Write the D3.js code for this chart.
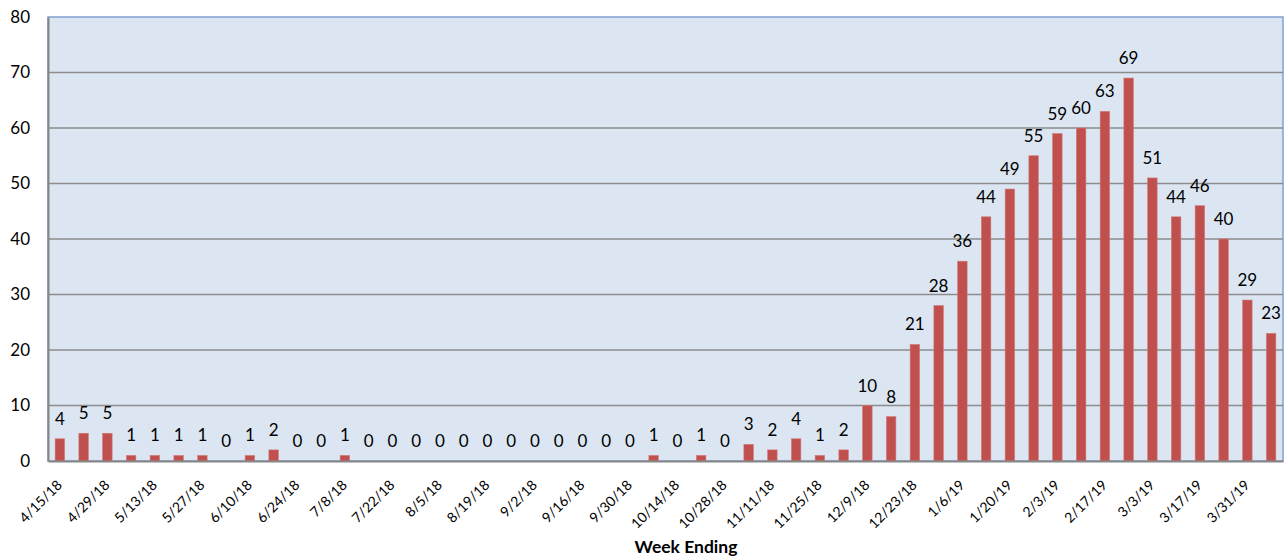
<!DOCTYPE html>
<html>
<head>
<meta charset="utf-8">
<script src="https://cdn.jsdelivr.net/npm/d3@7"></script>
<style>
  body { margin: 0; background: #fff; }
  text { font-family: Lato, "Open Sans", sans-serif; fill: #000; }
</style>
</head>
<body>
<div id="chart"></div>
<script>
// week ending dates (every week), labels shown on every 2nd
var weeks = ["4/15/18","4/22/18","4/29/18","5/6/18","5/13/18","5/20/18","5/27/18","6/3/18","6/10/18","6/17/18",
  "6/24/18","7/1/18","7/8/18","7/15/18","7/22/18","7/29/18","8/5/18","8/12/18","8/19/18","8/26/18",
  "9/2/18","9/9/18","9/16/18","9/23/18","9/30/18","10/7/18","10/14/18","10/21/18","10/28/18","11/4/18",
  "11/11/18","11/18/18","11/25/18","12/2/18","12/9/18","12/16/18","12/23/18","12/30/18","1/6/19","1/13/19",
  "1/20/19","1/27/19","2/3/19","2/10/19","2/17/19","2/24/19","3/3/19","3/10/19","3/17/19","3/24/19",
  "3/31/19","4/7/19"];
var counts = [4,5,5,1,1,1,1,0,1,2,
  0,0,1,0,0,0,0,0,0,0,
  0,0,0,0,0,1,0,1,0,3,
  2,4,1,2,10,8,21,28,36,44,
  49,55,59,60,63,69,51,44,46,40,
  29,23];
var yTicks = [0,10,20,30,40,50,60,70,80];

var w = 1286, h = 560;
var margin = {left: 48, right: 3, top: 17, bottom: 99};

var svg = d3.select("#chart").append("svg")
  .attr("width", w)
  .attr("height", h);

var xScale = d3.scaleBand()
  .domain(weeks)
  .range([margin.left, w - margin.right])
  .paddingInner(0.6)
  .paddingOuter(0.3);

var yScale = d3.scaleLinear()
  .domain([0, 80])
  .range([h - margin.bottom, margin.top]);

// plot background
svg.append("rect")
  .attr("x", margin.left)
  .attr("y", margin.top)
  .attr("width", w - margin.left - margin.right)
  .attr("height", h - margin.top - margin.bottom)
  .attr("fill", "#dce6f2")
  .attr("stroke", "#7fa0cf")
  .attr("stroke-width", 1.5);

// gridlines
svg.selectAll(".grid").data(yTicks.slice(1, -1))
  .enter().append("line")
  .attr("class", "grid")
  .attr("x1", margin.left)
  .attr("x2", w - margin.right)
  .attr("y1", function(d) { return yScale(d); })
  .attr("y2", function(d) { return yScale(d); })
  .attr("stroke", "#8c8c8c")
  .attr("stroke-width", 1.3);

// bars
svg.selectAll(".bar").data(counts)
  .enter().append("rect")
  .attr("class", "bar")
  .attr("x", function(d, i) { return xScale(weeks[i]); })
  .attr("y", function(d) { return yScale(d); })
  .attr("width", xScale.bandwidth())
  .attr("height", function(d) { return yScale(0) - yScale(d); })
  .attr("fill", "#c0504d")
  .attr("stroke", "#d27a78")
  .attr("stroke-width", 0.6);

// data labels
svg.selectAll(".val").data(counts)
  .enter().append("text")
  .attr("class", "val")
  .attr("x", function(d, i) { return xScale(weeks[i]) + xScale.bandwidth() / 2; })
  .attr("y", function(d) { return yScale(d) - 14; })
  .attr("text-anchor", "middle")
  .attr("font-size", "17px")
  .text(function(d) { return d; });

// y axis
var yAxis = d3.axisLeft(yScale).tickValues(yTicks).tickSize(0).tickPadding(18);
var yAxisG = svg.append("g")
  .attr("transform", "translate(" + margin.left + ",0)")
  .call(yAxis);
yAxisG.select(".domain").attr("stroke", "#868686").attr("stroke-width", 2);
yAxisG.selectAll("text").attr("font-size", "17px").attr("font-family", "Lato, sans-serif");

// x axis
var xAxis = d3.axisBottom(xScale)
  .tickValues(weeks.filter(function(d, i) { return i % 2 == 0; }))
  .tickSize(0);
var xAxisG = svg.append("g")
  .attr("transform", "translate(0," + (h - margin.bottom) + ")")
  .call(xAxis);
xAxisG.select(".domain").attr("stroke", "#868686").attr("stroke-width", 2);
xAxisG.selectAll("text")
  .attr("font-size", "14px")
  .attr("font-family", "Lato, sans-serif")
  .attr("text-anchor", "end")
  .attr("dy", null)
  .attr("y", 0)
  .attr("transform", "translate(3,25) rotate(-45)");

svg.append("text")
  .attr("x", 686)
  .attr("y", 553)
  .attr("text-anchor", "middle")
  .attr("font-size", "17.5px")
  .attr("font-weight", "bold")
  .text("Week Ending");
</script>
</body>
</html>
